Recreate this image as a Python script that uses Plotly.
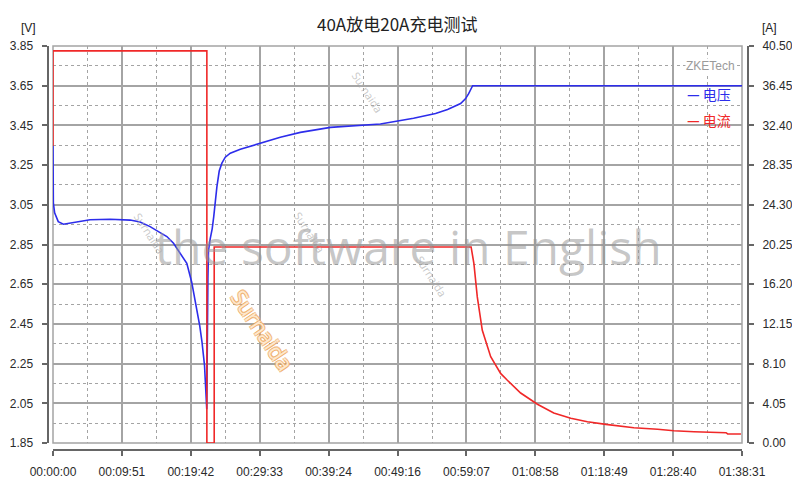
import plotly.graph_objects as go

# ---------------- data ----------------
title_text = "40A放电20A充电测试"
x_tick_labels = ["00:00:00", "00:09:51", "00:19:42", "00:29:33", "00:39:24", "00:49:16",
                 "00:59:07", "01:08:58", "01:18:49", "01:28:40", "01:38:31"]
v_tick_labels = ["1.85", "2.05", "2.25", "2.45", "2.65", "2.85", "3.05", "3.25", "3.45", "3.65", "3.85"]
a_tick_labels = ["0.00", "4.05", "8.10", "12.15", "16.20", "20.25", "24.30", "28.35", "32.40", "36.45", "40.50"]

# voltage (V) vs time (s)
volt_t = [0, 3, 14, 45, 89, 146, 232, 318, 490, 662, 747, 833, 919, 977, 1034, 1091, 1148,
          1190, 1214, 1235, 1259, 1278, 1291, 1300, 1306, 1314, 1319,
          1329, 1334, 1349, 1366, 1379, 1392, 1406, 1426, 1449, 1478, 1521, 1607, 1778,
          1950, 2122, 2380, 2809, 3093, 3282, 3385, 3497, 3540, 3566, 3587, 3600, 5911]
volt_v = [3.35, 3.06, 3.01, 2.965, 2.952, 2.957, 2.968, 2.975, 2.977, 2.973, 2.963, 2.94, 2.91,
          2.89, 2.856, 2.806, 2.755, 2.66, 2.59, 2.52, 2.44, 2.36, 2.29, 2.24, 2.17, 2.07, 2.02,
          2.68, 2.82, 2.88, 2.93, 2.99, 3.07, 3.14, 3.22, 3.26, 3.29, 3.31, 3.33, 3.36,
          3.39, 3.415, 3.44, 3.457, 3.486, 3.51, 3.53, 3.56, 3.585, 3.61, 3.635, 3.65, 3.65]

# current (A) vs time (s)
curr_t = [0, 0, 1320, 1320, 1383, 1383, 3587, 3611, 3640, 3683, 3755, 3840, 3898, 3984, 4012,
          4156, 4296, 4442, 4585, 4743, 4983, 5187, 5327, 5499, 5774, 5788, 5902]
curr_a = [30.3, 40.0, 40.0, 0.0, 0.0, 20.0, 20.0, 18.3, 14.9, 11.5, 8.8, 7.1, 6.4, 5.4, 5.1,
          3.95, 3.06, 2.52, 2.17, 1.9, 1.56, 1.40, 1.25, 1.15, 1.05, 0.92, 0.92]

# ---------------- helpers ----------------
W, H = 800, 496
OFF = 8  # page body margin
ML, MR, MT, MB = 32, 40, 32, 48
PW, PH = W - ML - MR, H - MT - MB


def px(xp):
    """page pixel x -> paper fraction"""
    return (xp - OFF - ML) / PW


def py(yp):
    """page pixel y -> paper fraction"""
    return (H - MB - (yp - OFF)) / PH


def secs(s):
    h, m, sec = s.split(":")
    return int(h) * 3600 + int(m) * 60 + int(sec)


x_vals = [secs(s) for s in x_tick_labels]
x_minor = [(a + b) / 2 for a, b in zip(x_vals[:-1], x_vals[1:])]
v_vals = [float(s) for s in v_tick_labels]
v_minor = [(a + b) / 2 for a, b in zip(v_vals[:-1], v_vals[1:])]
a_vals = [float(s) for s in a_tick_labels]

GRID = "#a4a4a4"
AXC = "#666666"
TICKF = dict(family="Liberation Sans, Arial, sans-serif", size=12, color="#2a2a2a")

fig = go.Figure()
fig.add_trace(go.Scatter(x=volt_t, y=volt_v, mode="lines", name="电压",
                         line=dict(color="rgb(45,45,235)", width=1.6), yaxis="y"))
fig.add_trace(go.Scatter(x=curr_t, y=curr_a, mode="lines", name="电流",
                         line=dict(color="rgb(240,40,40)", width=1.6), yaxis="y2"))

fig.update_layout(
    width=W, height=H,
    margin=dict(l=ML, r=MR, t=MT, b=MB, autoexpand=False),
    paper_bgcolor="white", plot_bgcolor="white",
    showlegend=False,
    xaxis=dict(
        domain=[px(53), px(742)], range=[x_vals[0], x_vals[-1]],
        anchor="free", position=py(450), automargin=False,
        tickmode="array", tickvals=x_vals, ticktext=x_tick_labels,
        showline=True, linecolor=AXC, linewidth=2,
        ticks="outside", ticklen=5, tickwidth=2, tickcolor=AXC,
        ticklabelstandoff=6,
        showgrid=True, gridcolor=GRID, gridwidth=1.5, zeroline=False,
        minor=dict(tickmode="array", tickvals=x_minor, showgrid=True, gridcolor=GRID,
                   gridwidth=1, griddash="3px,3px", ticks=""),
        tickfont=TICKF,
    ),
    yaxis=dict(
        domain=[py(443), py(46)], range=[v_vals[0], v_vals[-1]],
        anchor="free", position=px(47.5), automargin=False,
        tickmode="array", tickvals=v_vals, ticktext=v_tick_labels,
        showline=True, linecolor=AXC, linewidth=2,
        ticks="outside", ticklen=5, tickwidth=2, tickcolor=AXC,
        ticklabelstandoff=6,
        showgrid=True, gridcolor=GRID, gridwidth=1.5, zeroline=False,
        minor=dict(tickmode="array", tickvals=v_minor, showgrid=True, gridcolor=GRID,
                   gridwidth=1, griddash="3px,3px", ticks=""),
        tickfont=TICKF,
    ),
    yaxis2=dict(
        domain=[py(443), py(46)], range=[a_vals[0], a_vals[-1]],
        overlaying="y", side="right", anchor="free", position=px(748), automargin=False,
        tickmode="array", tickvals=a_vals, ticktext=a_tick_labels,
        showline=True, linecolor=AXC, linewidth=2,
        ticks="outside", ticklen=5, tickwidth=2, tickcolor=AXC,
        ticklabelstandoff=6,
        showgrid=False, zeroline=False,
        tickfont=TICKF,
    ),
)

# plot frame
fig.add_shape(type="rect", xref="x domain", yref="y domain", x0=0, y0=0, x1=1, y1=1,
              line=dict(color=GRID, width=1.5), layer="below")

CJK = "Noto Sans CJK SC, sans-serif"
ann = []
ann.append(dict(text=title_text, x=px(397), y=py(23), font=dict(family=CJK, size=17, color="#222")))
ann.append(dict(text="[V]", x=px(28.5), y=py(28), font=dict(family="Liberation Sans, Arial", size=12, color="#222")))
ann.append(dict(text="[A]", x=px(769.5), y=py(28), font=dict(family="Liberation Sans, Arial", size=12, color="#222")))
# legend
ann.append(dict(text="ZKETech", x=px(710), y=py(66), bgcolor="white", borderpad=0,
                font=dict(family="Liberation Sans, Arial", size=12, color="#9a9a9a")))
ann.append(dict(text="<b>—</b> 电压", x=px(709), y=py(94), font=dict(family=CJK, size=14, color="rgb(45,45,235)")))
ann.append(dict(text="<b>—</b> 电流", x=px(709), y=py(120), font=dict(family=CJK, size=14, color="rgb(240,40,40)")))
# watermarks
ann.append(dict(text="the software in English", x=px(408.5), y=py(246),
                font=dict(family="Open Sans, sans-serif", size=48, color="rgba(150,150,150,0.55)")))
ann.append(dict(text="Surnaida", x=px(263), y=py(330), textangle=56,
                font=dict(family="Open Sans, sans-serif", size=22, color="rgba(255,236,212,0.95)",
                          shadow="1px 1px 0 rgba(238,170,100,0.75), -1px -1px 0 rgba(238,170,100,0.75), 1px -1px 0 rgba(238,170,100,0.75), -1px 1px 0 rgba(238,170,100,0.75)")))
for cx, cy in [(150, 233), (310, 232), (368, 92), (432, 276)]:
    ann.append(dict(text="Surnaida", x=px(cx), y=py(cy), textangle=57,
                    font=dict(family="Open Sans, sans-serif", size=11, color="rgba(175,175,175,0.7)")))

for a in ann:
    a.update(xref="paper", yref="paper", showarrow=False, xanchor="center", yanchor="middle")
    fig.add_annotation(**a)

fig.write_html("out.html")
